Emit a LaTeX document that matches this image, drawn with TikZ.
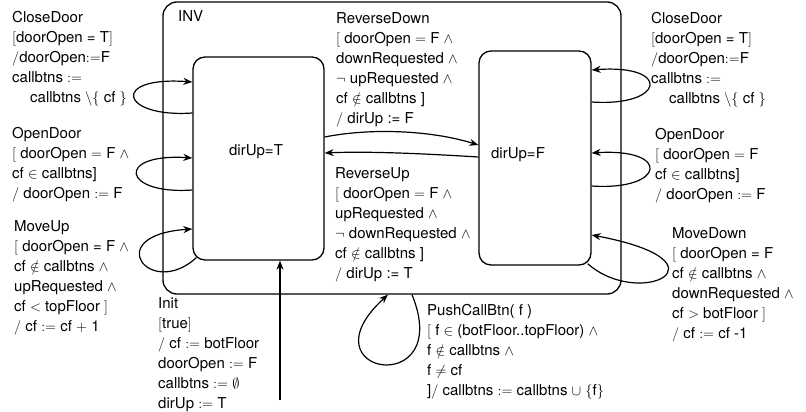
\documentclass[tikz,border=0pt]{standalone}
\usepackage{fontspec}
\setmainfont{TeX Gyre Heros}
\usetikzlibrary{arrows.meta}
\begin{document}
\begin{tikzpicture}[x=1pt,y=-1pt,
  frame/.style={draw, line width=1.3pt, rounded corners=14pt, inner sep=0pt},
  statebox/.style={draw, line width=1.3pt, rounded corners=12pt, inner sep=0pt},
  trans/.style={line width=1.2pt, -{Stealth[length=9pt,width=7pt]}},
  lbl/.style={anchor=north west, inner sep=0pt, align=left, font=\fontsize{15}{20}\selectfont},
  stxt/.style={inner sep=0pt, font=\fontsize{15}{20}\selectfont}]

\fill[white] (0,0) rectangle (806,412);
\useasboundingbox (0,0) rectangle (806,412);

% superstate and the two direction states
\node[frame, minimum width=458pt, minimum height=292pt] (inv) at (392,148) {};
\node[statebox, minimum width=131pt, minimum height=203pt] (up) at (258.5,158.5) {};
\node[statebox, minimum width=112pt, minimum height=214pt] (down) at (535,158) {};

\node[lbl] (invlbl) at (178,7) {\strut INV};
\node[stxt] (uptxt) at (256,152) {dirUp=T};
\node[stxt] (downtxt) at (518,155) {dirUp=F};

% self loops on dirUp=T
\draw[trans] (up.west |- 0,113) .. controls (120,118) and (110,76) .. (up.west |- 0,82);
\draw[trans] (up.west |- 0,190) .. controls (122,195) and (115,153) .. (up.west |- 0,158);
\draw[trans] ([xshift=4pt,yshift=3pt]up.south west) .. controls (150,300) and (100,235) .. (up.west |- 0,229);

% self loops on dirUp=F
\draw[trans] (down.east |- 0,102) .. controls (665,107) and (672,64) .. (down.east |- 0,70);
\draw[trans] (down.east |- 0,186) .. controls (665,191) and (672,148) .. (down.east |- 0,153);
\draw[trans] ([xshift=-4pt,yshift=2pt]down.south east) .. controls (640,310) and (735,262) .. (down.east |- 0,235);

% direction reversals
\draw[trans] (up.east |- 0,137) .. controls (370,128) and (430,130) .. (down.west |- 0,145);
\draw[trans] (down.west |- 0,157) .. controls (430,154) and (370,151) .. (up.east |- 0,153);

% call button loop on the superstate
\draw[trans] (inv.south -| 412,0) .. controls (455,400) and (300,375) .. (inv.south -| 388,0);

% initial transition
\coordinate (initsrc) at (280,400);
\draw[trans] (initsrc) -- (up.south -| initsrc);

% transition labels
\node[lbl] (cdl) at (12,8.5) {\strut CloseDoor\\
$[$doorOpen = T$]$\\
$/$doorOpen$:=$F\\
callbtns $:=$\\
\hspace*{18pt}callbtns $\backslash\{$ cf $\}$};

\node[lbl] (odl) at (12,124.5) {\strut OpenDoor\\
$[$ doorOpen $=$ F $\wedge$\\
cf $\in$ callbtns]\\
$/$ doorOpen $:=$ F};

\node[lbl] (mul) at (14,217.5) {\strut MoveUp\\
$[$ doorOpen = F $\wedge$\\
cf $\notin$ callbtns $\wedge$\\
upRequested $\wedge$\\
cf $<$ topFloor $]$\\
$/$ cf $:=$ cf $+$ 1};

\node[lbl] (initl) at (158,294.5) {\strut Init\\
$[$true$]$\\
$/$ cf $:=$ botFloor\\
doorOpen $:=$ F\\
callbtns $:=$ $\emptyset$\\
dirUp $:=$ T};

\node[lbl] (rdl) at (336,9) {\strut ReverseDown\\
$[$ doorOpen $=$ F $\wedge$\\
downRequested $\wedge$\\
$\neg$ upRequested $\wedge$\\
cf $\notin$ callbtns ]\\
$/$ dirUp := F};

\node[lbl] (rul) at (335,164) {\strut ReverseUp\\
$[$ doorOpen $=$ F $\wedge$\\
upRequested $\wedge$\\
$\neg$ downRequested $\wedge$\\
cf $\notin$ callbtns ]\\
$/$ dirUp := T};

\node[lbl] (pcl) at (427,301) {\strut PushCallBtn( f )\\
$[$ f $\in$ (botFloor..topFloor) $\wedge$\\
f $\notin$ callbtns $\wedge$\\
f $\neq$ cf\\
]$/$ callbtns $:=$ callbtns $\cup$ $\{$f$\}$};

\node[lbl] (cdr) at (651,9) {\strut CloseDoor\\
$[$doorOpen = T$]$\\
$/$doorOpen$:=$F\\
callbtns $:=$\\
\hspace*{18pt}callbtns $\backslash\{$ cf $\}$};

\node[lbl] (odr) at (655,125) {\strut OpenDoor\\
$[$ doorOpen $=$ F\\
cf $\in$ callbtns]\\
$/$ doorOpen $:=$ F};

\node[lbl] (mdr) at (672,224) {\strut MoveDown\\
$[$ doorOpen = F\\
cf $\notin$ callbtns $\wedge$\\
downRequested $\wedge$\\
cf $>$ botFloor $]$\\
$/$ cf $:=$ cf -1};

\end{tikzpicture}
\end{document}
